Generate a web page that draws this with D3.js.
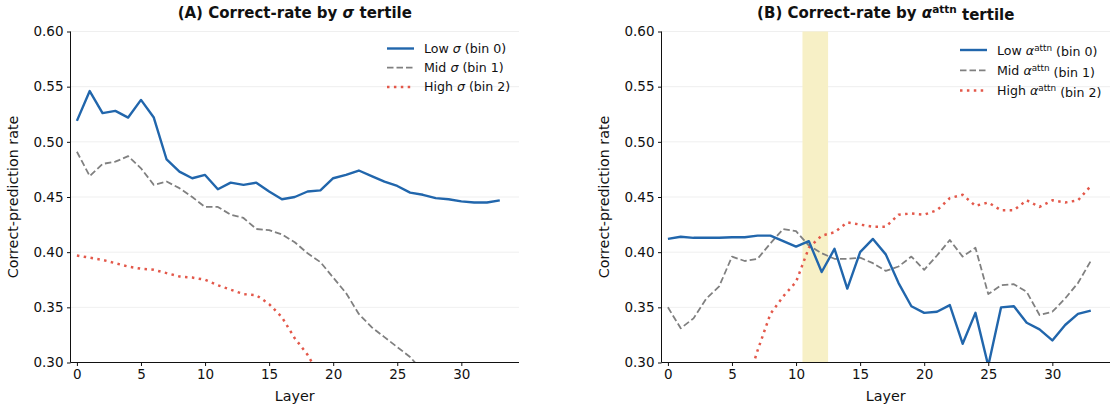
<!DOCTYPE html>
<html lang="en">
<head>
<meta charset="UTF-8">
<script src="https://d3js.org/d3.v7.min.js"></script>
<style>
  body { margin: 0; background: #fff; }
  text { font-family: "DejaVu Sans", sans-serif; fill: #111; }
</style>
</head>
<body>
<div id="chart"></div>
<script>
// ---- data ----
var layers = d3.range(0, 34);
var yTicks = [0.30, 0.35, 0.40, 0.45, 0.50, 0.55, 0.60];
var xTicks = [0, 5, 10, 15, 20, 25, 30];

// panel A: sigma tertiles
var sigmaLow = [0.519, 0.546, 0.526, 0.528, 0.522, 0.538, 0.522, 0.484, 0.473, 0.467,
                0.470, 0.457, 0.463, 0.461, 0.463, 0.455, 0.448, 0.450, 0.455, 0.456,
                0.467, 0.470, 0.474, 0.469, 0.464, 0.460, 0.454, 0.452, 0.449, 0.448,
                0.446, 0.445, 0.445, 0.447];
var sigmaMid = [0.491, 0.469, 0.480, 0.482, 0.487, 0.476, 0.461, 0.464, 0.458, 0.450,
                0.441, 0.441, 0.434, 0.431, 0.421, 0.420, 0.416, 0.409, 0.399, 0.391,
                0.377, 0.363, 0.344, 0.332, 0.323, 0.314, 0.305, 0.292];
var sigmaHigh = [0.397, 0.395, 0.393, 0.390, 0.387, 0.385, 0.384, 0.381, 0.378, 0.377,
                 0.375, 0.370, 0.366, 0.362, 0.361, 0.353, 0.341, 0.322, 0.307, 0.287];

// panel B: alpha^attn tertiles
var attnLow = [0.412, 0.414, 0.413, 0.413, 0.413, 0.4135, 0.4135, 0.415, 0.415, 0.410,
               0.405, 0.410, 0.382, 0.403, 0.367, 0.400, 0.412, 0.398, 0.372, 0.351,
               0.345, 0.346, 0.352, 0.317, 0.345, 0.297, 0.350, 0.351, 0.336, 0.330,
               0.320, 0.334, 0.344, 0.347];
var attnMid = [0.350, 0.331, 0.340, 0.358, 0.369, 0.396, 0.392, 0.394, 0.408, 0.421,
               0.419, 0.406, 0.399, 0.394, 0.394, 0.395, 0.390, 0.383, 0.387, 0.396,
               0.384, 0.397, 0.411, 0.396, 0.404, 0.362, 0.370, 0.371, 0.364, 0.343,
               0.346, 0.358, 0.372, 0.392];
var attnHigh = [null, null, null, null, null, null, 0.274, 0.311, 0.344, 0.360,
                0.373, 0.404, 0.415, 0.418, 0.427, 0.425, 0.423, 0.423, 0.434, 0.435,
                0.434, 0.438, 0.449, 0.452, 0.442, 0.445, 0.438, 0.438, 0.447, 0.441,
                0.447, 0.445, 0.447, 0.460];
var highlightBand = [10.5, 12.5];

var W = 1110, H = 408;
var plotTop = 31.5, plotBottom = 362.5;
var colors = { low: "#2166ac", mid: "#808080", high: "#e3584a" };
var styles = {
    low: { w: 2.4, dash: null },
    mid: { w: 1.8, dash: "6.5,3" },
    high: { w: 2.5, dash: "2.5,4.4" }
};

var svg = d3.select("#chart").append("svg")
    .attr("width", W).attr("height", H);

var y = d3.scaleLinear().domain([0.30, 0.60]).range([plotBottom, plotTop]);

function addSym(sel, sym, sup, weight) {
    sel.append("tspan").attr("font-style", "italic").attr("font-weight", weight || null).text(sym);
    if (sup) {
        sel.append("tspan").attr("font-size", "0.7em").attr("dy", "-0.45em").attr("font-weight", weight || null).text(sup);
        sel.append("tspan").attr("dy", "0.45em").text("\u00a0");
    } else {
        sel.append("tspan").text(" ");
    }
}

function panel(opts) {
    var x = d3.scaleLinear().domain([-0.5, 34.5]).range([opts.x0, opts.x1]);
    var g = svg.append("g");

    g.append("clipPath").attr("id", opts.id + "clip")
        .append("rect")
        .attr("x", opts.x0).attr("y", plotTop)
        .attr("width", opts.x1 - opts.x0).attr("height", plotBottom - plotTop);

    // grid
    g.selectAll(".grid").data(yTicks).enter().append("line")
        .attr("x1", opts.x0).attr("x2", opts.x1)
        .attr("y1", d => y(d)).attr("y2", d => y(d))
        .attr("stroke", "#ebebeb").attr("stroke-width", 0.8);

    if (opts.band) {
        g.append("rect")
            .attr("x", x(opts.band[0])).attr("y", plotTop)
            .attr("width", x(opts.band[1]) - x(opts.band[0]))
            .attr("height", plotBottom - plotTop)
            .attr("fill", "#f7f0c6");
    }

    var line = d3.line()
        .defined(d => d[1] != null)
        .x(d => x(d[0])).y(d => y(d[1]));

    var series = [
        { vals: opts.mid, key: "mid" },
        { vals: opts.high, key: "high" },
        { vals: opts.low, key: "low" }
    ];
    series.forEach(s => {
        g.append("path")
            .datum(s.vals.map((v, i) => [layers[i], v]))
            .attr("clip-path", "url(#" + opts.id + "clip)")
            .attr("fill", "none")
            .attr("stroke", colors[s.key])
            .attr("stroke-width", styles[s.key].w)
            .attr("stroke-dasharray", styles[s.key].dash)
            .attr("stroke-linejoin", "round")
            .attr("d", line);
    });

    // axes
    var xAxis = g.append("g")
        .attr("transform", "translate(0," + plotBottom + ")")
        .call(d3.axisBottom(x).tickValues(xTicks).tickSize(3.5).tickPadding(3.5));
    var yAxis = g.append("g")
        .attr("transform", "translate(" + opts.x0 + ",0)")
        .call(d3.axisLeft(y).tickValues(yTicks).tickFormat(d3.format(".2f")).tickSize(3.5).tickPadding(3.5));
    [xAxis, yAxis].forEach(a => {
        a.select(".domain").attr("stroke", "#111").attr("stroke-width", 1);
        a.selectAll(".tick line").attr("stroke", "#111");
        a.selectAll(".tick text").attr("font-size", 13.5).attr("font-family", "DejaVu Sans").attr("fill", "#111");
    });
    xAxis.select(".domain").attr("d", "M" + opts.x0 + ",0H" + opts.x1);
    yAxis.select(".domain").attr("d", "M0," + plotBottom + "V" + plotTop);

    var cx = (opts.x0 + opts.x1) / 2;
    g.append("text").attr("x", cx).attr("y", 401)
        .attr("text-anchor", "middle").attr("font-size", 14.3).text("Layer");
    g.append("text")
        .attr("transform", "translate(" + (opts.x0 - 53) + "," + ((plotTop + plotBottom) / 2) + ") rotate(-90)")
        .attr("text-anchor", "middle").attr("font-size", 14.3).text("Correct-prediction rate");

    var title = g.append("text").attr("x", cx).attr("y", 18)
        .attr("text-anchor", "middle").attr("font-size", 15).attr("font-weight", "bold");
    title.append("tspan").text(opts.titleA);
    addSym(title, opts.sym, opts.sup);
    title.append("tspan").text("tertile");

    // legend
    var labels = [["Low", "(bin 0)", "low"],
                  ["Mid", "(bin 1)", "mid"],
                  ["High", "(bin 2)", "high"]];
    labels.forEach((l, i) => {
        var ly = opts.legY + i * opts.legStep;
        g.append("line")
            .attr("x1", opts.legX).attr("x2", opts.legX + 27)
            .attr("y1", ly).attr("y2", ly)
            .attr("stroke", colors[l[2]]).attr("stroke-width", styles[l[2]].w)
            .attr("stroke-dasharray", styles[l[2]].dash);
        var t = g.append("text").attr("x", opts.legX + 37).attr("y", ly + 4.5)
            .attr("font-size", 12.6);
        t.append("tspan").text(l[0] + " ");
        addSym(t, opts.sym, opts.sup, "normal");
        t.append("tspan").text(l[1]);
    });
}

panel({ id: "a", x0: 70.5, x1: 519, low: sigmaLow, mid: sigmaMid, high: sigmaHigh,
        titleA: "(A) Correct-rate by ", sym: "\u03c3", sup: null,
        legX: 387, legY: 48.5, legStep: 19.2 });
panel({ id: "b", x0: 661.5, x1: 1110, low: attnLow, mid: attnMid, high: attnHigh,
        titleA: "(B) Correct-rate by ", sym: "\u03b1", sup: "attn", band: highlightBand,
        legX: 960, legY: 50, legStep: 20.3 });
</script>
</body>
</html>
